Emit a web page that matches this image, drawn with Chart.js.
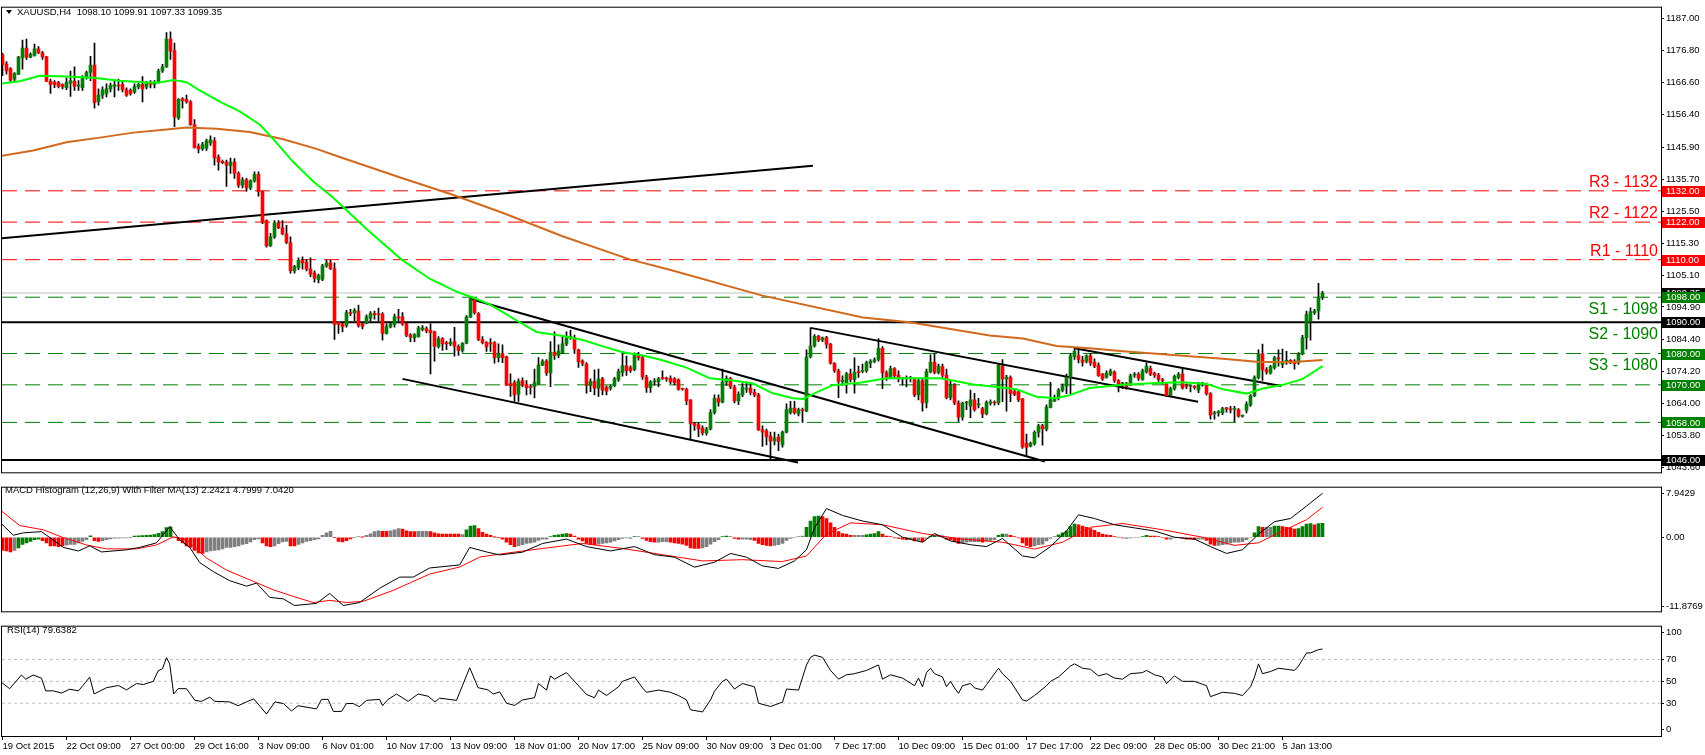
<!DOCTYPE html>
<html>
<head>
<meta charset="utf-8">
<title>XAUUSD H4</title>
<script src="https://cdn.jsdelivr.net/npm/chart.js@4.4.1/dist/chart.umd.min.js"></script>
<style>
  html, body { margin: 0; padding: 0; background: #fff; }
  #wrap { position: relative; width: 1705px; height: 755px; overflow: hidden; background: #fff; }
  #wrap canvas { position: absolute; left: 0; }
</style>
</head>
<body>
<div id="wrap">
  <canvas id="mainChart" width="1705" height="480" style="top:0"></canvas>
  <canvas id="macdChart" width="1705" height="139" style="top:480px"></canvas>
  <canvas id="rsiChart" width="1705" height="136" style="top:619px"></canvas>
</div>
<script>
// ---- candles (H4 bars, index 0 = 19 Oct 2015) ----
const OPENS = [
  1175.5,1172.6,1171.1,1167.7,1169.3,1174.5,1177.6,1174.7,1175.3,1177.4,
  1176.1,1174.8,1167.0,1166.7,1166.7,1166.0,1165.0,1166.4,1167.0,1165.5,
  1165.0,1168.3,1169.8,1172.2,1160.5,1162.6,1163.1,1164.6,1165.4,1165.7,
  1166.0,1164.3,1164.1,1163.6,1165.2,1166.0,1165.2,1166.4,1166.0,1166.7,
  1170.3,1171.6,1180.5,1176.8,1155.3,1161.4,1161.2,1160.4,1153.2,1146.2,
  1145.4,1145.6,1147.3,1148.0,1142.8,1141.4,1141.2,1140.0,1141.2,1137.6,
  1133.8,1135.5,1132.9,1135.2,1137.3,1131.7,1122.5,1114.4,1117.3,1121.8,
  1120.2,1118.2,1115.5,1106.4,1107.5,1109.8,1109.2,1107.1,1105.7,1103.6,
  1103.8,1108.0,1109.0,1107.1,1090.0,1089.5,1089.0,1093.1,1093.1,1093.6,
  1089.5,1089.7,1091.3,1092.8,1092.6,1092.6,1086.4,1088.5,1089.3,1091.7,
  1091.7,1089.5,1085.9,1085.0,1085.4,1087.7,1088.0,1087.4,1086.9,1082.3,
  1084.8,1083.4,1083.1,1083.8,1082.3,1081.0,1083.3,1091.7,1097.2,1092.8,
  1084.5,1083.5,1083.5,1083.5,1078.7,1080.0,1079.0,1070.4,1070.7,1067.0,
  1071.4,1070.1,1069.4,1069.4,1070.4,1076.3,1077.6,1073.8,1080.4,1079.4,
  1080.2,1083.1,1085.1,1085.1,1081.2,1077.6,1076.6,1069.7,1071.1,1068.9,
  1071.9,1069.1,1068.9,1069.7,1071.7,1074.0,1076.1,1075.5,1075.0,1079.7,
  1078.7,1072.5,1069.1,1070.9,1070.9,1072.1,1072.0,1072.1,1071.9,1071.7,
  1068.8,1068.6,1065.2,1057.7,1057.3,1056.2,1054.6,1055.9,1061.1,1065.7,
  1064.5,1070.9,1072.1,1069.3,1064.9,1066.8,1068.6,1069.0,1067.6,1066.8,
  1055.6,1055.2,1053.6,1052.1,1053.3,1050.8,1054.9,1061.1,1062.6,1060.8,
  1061.9,1061.6,1078.9,1082.4,1085.5,1084.3,1085.1,1083.0,1076.9,1074.5,
  1071.1,1070.7,1073.5,1071.7,1074.0,1074.3,1074.5,1076.9,1077.6,1078.1,
  1081.7,1073.8,1072.4,1075.2,1073.1,1072.1,1072.0,1072.1,1071.7,1066.8,
  1071.4,1064.2,1074.2,1077.3,1074.0,1075.8,1073.1,1065.9,1069.9,1064.2,
  1059.7,1064.2,1063.2,1065.2,1063.6,1062.4,1060.8,1064.2,1064.3,1064.2,
  1076.0,1071.9,1072.4,1067.9,1067.7,1065.5,1051.4,1050.4,1051.2,1054.8,
  1056.9,1055.9,1062.8,1064.9,1065.9,1068.3,1069.6,1072.4,1079.1,1079.3,
  1077.9,1077.6,1079.3,1077.2,1076.2,1073.4,1072.4,1073.4,1074.1,1071.4,
  1070.3,1070.3,1070.0,1073.1,1073.4,1071.7,1074.2,1075.2,1073.7,1073.1,
  1071.4,1070.3,1066.7,1068.8,1072.4,1073.4,1069.6,1069.6,1069.3,1068.3,
  1070.3,1069.8,1067.2,1060.7,1061.1,1061.0,1062.4,1062.1,1062.2,1062.1,
  1060.0,1061.8,1063.6,1066.5,1072.4,1079.9,1074.8,1073.7,1075.5,1078.6,
  1076.5,1077.5,1077.6,1077.6,1077.0,1079.9,1085.1,1090.3,1093.1,1093.6,1098.1
];
const HIGHS = [
  1176.0,1173.3,1171.4,1169.8,1175.0,1180.2,1180.5,1176.1,1178.9,1178.1,
  1176.6,1175.0,1167.7,1167.2,1167.0,1166.2,1168.1,1170.3,1171.6,1167.2,
  1168.8,1170.3,1175.0,1179.2,1164.6,1165.2,1166.2,1166.4,1167.2,1167.7,
  1167.2,1164.9,1164.6,1166.2,1166.7,1168.5,1167.0,1167.2,1167.2,1170.9,
  1172.4,1182.6,1182.8,1179.2,1161.5,1161.8,1162.6,1160.8,1154.8,1147.0,
  1147.5,1148.5,1149.6,1149.0,1143.5,1141.8,1141.8,1142.5,1142.3,1138.1,
  1136.2,1136.0,1135.5,1138.1,1138.1,1131.9,1122.7,1118.4,1122.5,1122.5,
  1122.5,1121.0,1117.3,1108.2,1110.6,1110.9,1110.0,1110.6,1106.4,1105.4,
  1108.5,1109.8,1109.8,1109.0,1090.0,1090.0,1093.8,1094.1,1094.4,1095.5,
  1090.0,1092.4,1093.4,1093.6,1094.5,1093.1,1089.5,1090.0,1092.6,1094.1,
  1093.1,1089.7,1086.4,1086.4,1088.7,1088.9,1088.5,1089.5,1087.2,1085.4,
  1085.1,1083.9,1084.8,1088.4,1082.8,1083.5,1092.1,1097.9,1097.7,1093.1,
  1085.4,1083.8,1084.8,1083.8,1083.1,1082.8,1079.2,1073.5,1071.4,1071.9,
  1072.2,1071.4,1070.1,1075.0,1078.7,1078.1,1078.1,1083.8,1086.9,1082.8,
  1085.4,1086.9,1087.4,1085.9,1081.4,1078.0,1077.1,1071.9,1074.8,1075.0,
  1072.4,1069.7,1069.9,1072.4,1075.0,1080.7,1079.2,1076.1,1080.2,1080.4,
  1079.2,1073.0,1071.4,1072.0,1072.4,1074.5,1072.5,1072.9,1072.3,1071.9,
  1069.0,1069.0,1065.2,1058.0,1058.0,1056.9,1056.4,1062.1,1066.8,1066.8,
  1075.0,1072.9,1072.4,1069.9,1067.8,1070.4,1070.9,1070.4,1068.6,1067.3,
  1056.9,1055.9,1054.9,1054.9,1054.2,1055.2,1063.9,1064.7,1064.7,1062.6,
  1062.6,1081.2,1088.2,1086.1,1085.8,1085.3,1085.5,1083.3,1077.1,1075.0,
  1072.9,1074.0,1075.0,1078.6,1076.0,1076.6,1077.6,1078.1,1078.6,1084.8,
  1082.2,1074.5,1076.0,1075.5,1074.5,1072.4,1072.9,1072.7,1072.1,1071.9,
  1071.9,1075.0,1079.6,1080.0,1076.6,1076.6,1075.0,1071.4,1070.4,1064.9,
  1064.5,1064.7,1068.3,1067.3,1065.7,1062.8,1064.9,1065.2,1064.9,1076.9,
  1078.1,1073.0,1072.9,1068.3,1067.9,1065.7,1054.3,1051.7,1055.3,1057.4,
  1057.4,1063.6,1070.8,1066.7,1068.8,1070.3,1073.4,1079.9,1081.7,1081.2,
  1079.1,1079.6,1079.9,1078.3,1077.0,1073.7,1074.5,1075.0,1074.5,1071.7,
  1070.8,1070.8,1073.4,1073.9,1073.9,1075.0,1077.0,1076.0,1074.1,1073.7,
  1072.1,1070.8,1069.3,1073.1,1073.9,1075.2,1070.3,1070.0,1069.8,1070.8,
  1070.8,1070.6,1067.5,1061.5,1061.8,1062.8,1062.8,1063.1,1063.1,1062.4,
  1060.3,1064.6,1066.9,1072.9,1081.2,1083.0,1075.5,1076.2,1079.1,1081.2,
  1081.4,1080.7,1078.1,1078.1,1080.3,1085.8,1093.6,1094.6,1094.1,1102.4,1099.9
];
const LOWS = [
  1168.8,1169.3,1167.0,1167.2,1169.1,1170.9,1174.0,1174.5,1175.0,1175.8,
  1174.0,1167.0,1163.1,1165.0,1164.9,1164.6,1164.3,1162.2,1164.1,1164.1,
  1164.1,1167.7,1167.2,1158.4,1159.4,1161.5,1162.0,1163.6,1162.0,1164.1,
  1163.6,1162.2,1162.6,1163.1,1164.6,1160.4,1164.6,1164.9,1164.9,1166.4,
  1169.8,1171.4,1174.0,1152.5,1154.8,1158.4,1160.0,1152.9,1145.6,1144.1,
  1144.9,1144.9,1146.5,1140.2,1138.6,1140.7,1133.4,1137.6,1136.0,1133.1,
  1132.9,1131.9,1132.4,1134.8,1130.3,1121.5,1114.0,1114.2,1116.8,1119.9,
  1117.9,1115.1,1105.7,1105.7,1106.8,1107.0,1106.4,1104.6,1102.8,1102.6,
  1103.3,1107.5,1106.8,1084.5,1086.4,1086.9,1088.4,1092.1,1090.5,1088.4,
  1087.9,1089.5,1090.5,1091.0,1090.5,1084.3,1086.2,1088.2,1088.4,1090.5,
  1089.0,1085.4,1083.8,1083.8,1085.2,1087.2,1086.6,1073.5,1077.6,1081.7,
  1081.0,1081.2,1082.5,1079.2,1079.4,1080.4,1083.1,1091.5,1092.6,1084.1,
  1083.1,1080.7,1080.7,1076.9,1077.3,1077.1,1069.7,1066.3,1064.7,1064.7,
  1069.4,1066.8,1067.0,1065.8,1070.1,1076.1,1073.0,1069.4,1078.1,1078.7,
  1080.0,1082.5,1084.5,1080.0,1075.6,1076.1,1067.3,1067.8,1066.8,1066.3,
  1066.8,1066.8,1068.3,1069.4,1071.1,1072.8,1073.0,1074.0,1074.5,1077.9,
  1071.7,1067.6,1067.6,1069.9,1069.4,1071.7,1071.2,1070.4,1070.0,1068.3,
  1068.3,1063.7,1052.8,1055.4,1053.4,1053.9,1053.9,1055.6,1060.6,1063.2,
  1064.2,1069.8,1068.8,1064.2,1063.7,1066.2,1067.6,1066.8,1066.2,1055.4,
  1050.3,1050.8,1046.4,1050.8,1049.0,1050.1,1054.6,1060.6,1060.6,1060.1,
  1058.0,1061.4,1078.6,1082.0,1083.8,1083.8,1081.7,1076.6,1074.0,1065.9,
  1069.9,1067.3,1070.9,1067.3,1072.4,1073.8,1074.0,1075.5,1077.1,1077.6,
  1068.8,1071.4,1071.9,1071.9,1070.9,1069.9,1069.3,1070.9,1066.2,1065.2,
  1061.6,1062.6,1073.8,1073.5,1073.5,1072.4,1065.5,1065.2,1063.7,1058.3,
  1058.7,1062.1,1059.5,1061.6,1062.6,1059.5,1060.4,1063.5,1063.5,1063.7,
  1064.6,1061.6,1064.6,1066.5,1064.6,1049.7,1047.1,1050.2,1050.7,1053.3,
  1050.7,1055.3,1062.6,1064.6,1065.2,1067.7,1067.2,1067.2,1078.1,1077.0,
  1076.0,1077.0,1076.2,1075.5,1072.7,1071.4,1072.1,1072.9,1070.8,1067.7,
  1068.8,1068.6,1069.8,1072.4,1071.4,1071.4,1073.7,1072.9,1072.4,1071.1,
  1070.3,1066.2,1066.2,1068.3,1071.9,1068.6,1068.8,1067.7,1068.6,1067.5,
  1069.6,1066.7,1059.0,1059.0,1060.0,1060.5,1061.3,1061.0,1058.2,1059.7,
  1059.7,1061.0,1063.1,1066.2,1071.9,1071.4,1073.4,1073.4,1075.0,1076.0,
  1075.5,1076.5,1076.8,1075.0,1076.5,1079.6,1081.4,1084.3,1092.5,1091.0,1097.3
];
const CLOSES = [
  1172.4,1170.3,1167.4,1169.5,1174.7,1177.6,1174.7,1175.7,1177.4,1176.1,
  1174.8,1167.0,1166.0,1165.9,1165.4,1165.2,1166.7,1167.2,1165.4,1165.7,
  1168.3,1169.8,1172.2,1160.2,1162.6,1164.3,1164.6,1165.7,1165.9,1165.5,
  1164.3,1162.6,1163.1,1165.4,1166.0,1164.6,1166.4,1166.0,1166.4,1170.3,
  1171.6,1180.5,1176.6,1155.6,1161.2,1160.8,1160.4,1153.2,1145.9,1145.4,
  1146.8,1148.0,1148.3,1142.5,1141.2,1141.0,1140.2,1141.2,1137.6,1133.8,
  1135.5,1132.9,1135.2,1137.3,1131.7,1122.0,1114.4,1117.3,1121.8,1120.2,
  1118.2,1115.5,1106.4,1107.8,1109.8,1109.0,1107.0,1105.4,1104.0,1104.9,
  1108.0,1109.0,1107.1,1089.3,1089.3,1088.5,1093.1,1092.8,1093.8,1089.0,
  1088.7,1091.7,1092.8,1092.4,1092.4,1086.4,1088.5,1089.5,1091.7,1091.4,
  1089.5,1085.9,1085.2,1086.1,1088.2,1088.2,1087.2,1086.6,1082.3,1084.8,
  1083.1,1083.1,1083.6,1082.3,1081.0,1083.3,1091.7,1097.5,1093.1,1084.5,
  1083.5,1082.1,1083.1,1078.7,1080.0,1078.7,1069.9,1069.7,1066.8,1071.1,
  1069.9,1069.1,1069.1,1070.7,1076.3,1077.6,1073.8,1080.4,1079.4,1080.7,
  1083.1,1085.1,1085.5,1081.4,1077.3,1076.9,1069.9,1071.1,1068.9,1071.9,
  1068.3,1068.0,1069.5,1071.9,1074.2,1076.1,1074.5,1074.6,1079.7,1078.7,
  1072.5,1069.1,1070.9,1071.3,1071.9,1072.0,1071.9,1070.9,1070.7,1068.6,
  1068.6,1064.9,1057.7,1057.0,1055.9,1054.6,1055.9,1061.1,1065.7,1064.5,
  1070.9,1072.1,1069.3,1064.9,1067.0,1069.3,1069.0,1067.6,1066.8,1055.6,
  1054.9,1053.4,1052.0,1053.1,1051.9,1054.9,1062.1,1062.6,1061.1,1062.1,
  1061.8,1078.9,1082.4,1085.5,1084.3,1085.0,1083.0,1076.9,1074.5,1071.1,
  1071.4,1073.5,1071.7,1074.0,1073.9,1074.5,1077.1,1077.6,1078.0,1081.7,
  1073.8,1072.4,1075.2,1072.9,1072.1,1072.0,1072.1,1072.0,1066.8,1071.4,
  1064.2,1074.2,1077.3,1074.0,1076.0,1073.1,1065.9,1069.9,1064.2,1059.7,
  1064.2,1064.3,1065.2,1062.1,1063.7,1060.6,1064.5,1064.3,1064.2,1076.2,
  1071.9,1072.5,1067.2,1066.9,1065.2,1050.2,1050.0,1051.4,1054.8,1056.9,
  1055.9,1062.8,1065.2,1065.9,1068.3,1069.6,1072.4,1079.3,1080.7,1078.1,
  1077.2,1079.3,1077.0,1076.0,1072.9,1071.9,1073.7,1074.5,1071.4,1070.3,
  1070.4,1069.3,1072.9,1073.2,1072.1,1074.5,1076.0,1073.4,1073.1,1071.7,
  1071.3,1066.5,1068.8,1072.7,1073.4,1069.0,1069.5,1069.7,1069.2,1070.3,
  1070.4,1067.2,1060.3,1060.8,1061.3,1062.4,1062.3,1062.0,1062.4,1060.0,
  1060.0,1063.8,1066.5,1072.4,1079.9,1074.8,1074.1,1075.8,1078.6,1078.3,
  1077.2,1077.6,1077.5,1076.8,1079.9,1085.1,1092.5,1093.4,1093.6,1097.9,1099.35
];

// moving averages, read as [bar index, price]
const MA_FAST = [
  [-0.7,1166.2],[4.3,1167.0],[9.3,1168.8],[16,1168.5],[22.7,1168.1],[29.3,1167.2],[36,1166.6],
  [39.3,1166.6],[42.7,1167.4],[46,1166.7],[49.3,1164.1],[54.3,1160.5],[59.3,1157.4],[64.3,1153.2],
  [67.7,1148.5],[72.7,1141.2],[77.7,1135.0],[82.7,1129.8],[91,1119.8],[99.7,1110.1],[106.8,1103.9],
  [113.5,1099.8],[117.6,1097.9],[121.8,1095.7],[129.3,1090.0],[133.5,1086.9],[140.1,1085.6],
  [145.1,1084.3],[150.1,1082.3],[155.1,1080.4],[160.1,1079.4],[164.3,1078.1],[171,1075.5],
  [176.8,1072.1],[182.6,1071.4],[187.6,1070.4],[192.6,1067.3],[197.6,1065.7],[200.1,1065.5],
  [203.5,1067.6],[207.6,1069.9],[214.3,1070.7],[221,1072.1],[227.6,1072.1],[234.3,1072.1],
  [237.6,1071.4],[242.6,1070.1],[249.3,1069.2],[253.5,1068.6],[258.5,1066.2],[263.5,1065.7],
  [266.8,1066.7],[271.8,1069.0],[280.1,1070.0],[288.5,1070.6],[295.1,1070.8],[301,1070.3],
  [305.1,1068.6],[311,1067.2],[315.1,1068.8],[320.1,1070.0],[325.1,1071.9],[330,1076.0]
];
const MA_SLOW = [
  [-0.7,1143.1],[7.7,1144.9],[16,1147.5],[24.3,1149.0],[32.7,1150.6],[41,1151.6],[46,1152.2],
  [53.5,1151.8],[61.8,1150.8],[70.2,1148.5],[78.5,1145.4],[84.3,1142.8],[100,1136.0],[112,1131.0],
  [125,1125.0],[140,1117.5],[156.8,1110.1],[166.8,1106.8],[190,1098.5],[215.1,1091.5],[226.8,1090.0],
  [246.8,1085.8],[255.1,1084.8],[263.5,1082.4],[271.8,1081.7],[280.1,1080.7],[288.5,1079.9],
  [296.8,1079.1],[305.1,1078.3],[313.5,1077.4],[321.8,1077.2],[330,1077.9]
];

// trend lines: [start index, start price, end index, end price]
const TRENDLINES = [
  [-0.7, 1116.8, 202.6, 1140.0],
  [116.8, 1097.5, 260.6, 1045.5],
  [100.0, 1071.9, 198.9, 1045.2],
  [202.0, 1088.2, 298.9, 1064.6],
  [268.0, 1081.7, 319.7, 1069.6]
];

// horizontal levels
const RESISTANCE = [['R3', 1132], ['R2', 1122], ['R1', 1110]];
const SUPPORT = [['S1', 1098], ['S2', 1090], ['S3', 1080]];
const GREEN_LEVELS = [1098, 1080, 1070, 1058];
const BLACK_LEVELS = [1090, 1046];
const LAST_PRICE = 1099.35;
const PRICE_TICKS = [1187.00,1176.80,1166.60,1156.40,1145.90,1135.70,1125.50,1115.30,1105.10,1094.90,1084.40,1074.20,1064.00,1053.80,1043.60];

// MACD histogram (12,26,9) with filter MA(13): bar values and colours (g rising, r falling, n neutral)
const HIST = [
  -2.11,-2.21,-2.36,-2.11,-1.72,-1.14,-0.90,-0.66,-0.41,-0.32,
  -0.56,-0.90,-1.38,-1.38,-1.53,-1.38,-1.29,-1.14,-1.14,-0.90,
  -0.66,-0.41,0.22,-0.56,-0.66,-0.56,-0.41,-0.27,-0.17,-0.17,
  -0.12,-0.12,-0.07,0.17,0.22,0.27,0.32,0.36,0.41,0.61,
  0.90,1.53,1.68,-0.07,-0.56,-0.90,-1.38,-1.63,-2.11,-2.50,
  -2.60,-2.36,-2.21,-2.11,-2.02,-1.87,-1.63,-1.63,-1.53,-1.38,
  -1.14,-1.04,-0.75,-0.41,-0.27,-0.90,-1.38,-1.53,-1.38,-1.04,
  -0.75,-0.66,-1.38,-1.38,-1.14,-0.90,-0.66,-0.56,-0.41,-0.27,
  0.32,0.70,0.95,-0.07,-0.66,-0.75,-0.56,-0.27,-0.07,0.12,
  0.02,0.32,0.56,0.90,1.04,0.95,0.95,1.04,1.19,1.38,
  1.29,1.04,0.90,0.90,0.95,0.95,0.95,0.90,0.70,0.56,
  0.51,0.51,0.51,0.51,0.51,0.41,1.19,1.77,1.87,1.38,
  0.80,0.51,0.32,0.02,-0.07,-0.3,-0.8,-1.2,-1.5,-1.4,
  -1.2,-1.0,-0.9,-0.8,-0.5,-0.3,-0.3,0.1,0.3,0.4,
  0.5,0.6,0.5,0.2,-0.3,-0.6,-1.0,-1.1,-1.2,-1.1,
  -1.0,-0.9,-0.8,-0.6,-0.4,-0.2,-0.1,-0.2,0.1,0.1,
  -0.2,-0.5,-0.7,-0.8,-0.8,-0.7,-0.7,-0.8,-0.9,-1.0,
  -1.1,-1.3,-1.7,-1.8,-1.8,-1.7,-1.5,-1.1,-0.7,-0.4,
  0.1,0.2,0.1,-0.2,-0.3,-0.3,-0.3,-0.4,-0.5,-1.0,
  -1.2,-1.3,-1.4,-1.3,-1.2,-1.0,-0.5,-0.2,0.0,0.1,
  0.2,1.6,2.6,3.3,3.4,3.3,3.0,2.3,1.6,0.9,
  0.6,0.5,0.3,0.3,0.3,0.3,0.4,0.5,0.6,0.9,
  0.5,0.2,0.1,-0.1,-0.2,-0.3,-0.4,-0.4,-0.6,-0.5,
  -0.7,-0.2,0.2,0.3,0.3,0.2,-0.3,-0.4,-0.7,-1.0,
  -0.9,-0.8,-0.7,-0.7,-0.7,-0.8,-0.6,-0.5,-0.4,0.3,
  0.5,0.5,0.3,0.1,-0.1,-0.9,-1.3,-1.5,-1.4,-1.2,
  -1.1,-0.6,-0.2,0.1,0.4,0.7,1.0,1.7,2.1,2.0,
  1.8,1.6,1.4,1.1,0.8,0.5,0.4,0.3,0.1,0.0,
  -0.1,-0.2,-0.1,0.0,0.0,0.1,0.3,0.2,0.2,0.1,
  0.0,-0.3,-0.3,-0.1,0.0,-0.2,-0.3,-0.3,-0.4,-0.3,
  -0.3,-0.5,-1.1,-1.3,-1.3,-1.2,-1.1,-0.9,-0.8,-0.8,
  -0.7,-0.4,0.0,0.7,1.7,1.6,1.6,1.6,1.8,1.8,
  1.7,1.6,1.5,1.3,1.4,1.7,2.1,2.2,2.0,2.2,2.24
];
const HIST_CLR =
  'rrrngggggg' + 'rrrrrrnnnn' + 'nngrrnnnnn' + 'nnnggggggg' + 'gggrrrrrrr' +
  'rnnnnnnnnn' + 'nnnnnrrrnn' + 'nnrrnnnnnn' + 'nnnrrrrrnn' + 'rnnnnrrnnn' +
  'rrrrnnnrrr' + 'rrrrrngggr' + 'rrrrrrrrrn' + 'nnnnnnnggg' + 'ggrrrrrrrn' +
  'nnnnnnnngn' + 'rrrrnnnrrr' + 'rrrrrnnnnn' + 'ggnrrnnnrr' + 'rrrnnnnnnn' +
  'nggggrrrrr' + 'rrrnnngggg' + 'rrrrrrrnrn' + 'rnggnrrrrr' + 'nnnnnrnnng' +
  'gnrrrrrrnn' + 'nnnngggggr' + 'rrrrrrrrrr' + 'rnnnnggrrr' + 'rrnnnrrrrn' +
  'nrrrnnnnnn' + 'nnnggrnngg' + 'rrrrggggrgg';
const MACD_LINE = [
  [-0.25,2.16],[2.7,0.32],[5.2,0.70],[9.75,0.90],[15.2,-1.63],[19,-2.21],[21.8,-1.38],[24.75,-2.36],
  [31,-2.02],[34.3,-1.63],[38.5,-0.90],[41.8,1.68],[44.3,-0.41],[46.8,-1.63],[49.3,-4.06],[52.7,-5.51],
  [56.8,-6.97],[61,-7.84],[63.5,-7.36],[66.8,-9.64],[70.2,-9.88],[73,-10.95],[78.5,-10.61],[81.8,-9.01],
  [85.2,-10.95],[89.3,-10.47],[94.3,-8.18],[99.3,-6.39],[102.7,-6.39],[106.8,-4.93],[114.3,-4.44],
  [116.8,-1.63],[121,-2.36],[124.3,-2.84],[130,-2.4],[135,-1.0],[141,-0.3],[146,-1.5],[152,-2.2],
  [158,-1.5],[163,-2.8],[168,-3.2],[173,-4.8],[178,-4.0],[182,-2.6],[186,-3.2],[190,-4.6],[194,-5.0],
  [198,-3.8],[201,-2.0],[203,1.5],[206,4.6],[210,3.5],[215,2.6],[220,2.0],[225,0.0],[230,-0.8],
  [233,0.6],[237,-0.6],[242,-1.2],[246,-1.5],[250,-0.2],[255,-3.0],[258,-3.3],[262,-1.5],[266,1.0],
  [269,3.6],[273,3.0],[278,2.0],[283,1.5],[288,1.0],[293,0.0],[298,-0.3],[302,-1.5],[306,-2.6],
  [310,-2.0],[314,0.5],[318,2.5],[322,3.0],[326,5.0],[330,7.04]
];
const SIGNAL_LINE = [
  [-0.25,4.20],[4.3,1.87],[10.2,1.19],[15.2,-0.07],[21,-1.24],[26,-1.87],[33.5,-1.87],[38.5,-1.24],
  [42.7,0.07],[46,-0.41],[51,-3.33],[56,-5.27],[62.7,-7.07],[67.7,-8.43],[72.7,-9.49],[77.7,-10.47],
  [81.8,-10.13],[86,-10.47],[90.2,-10.27],[97.7,-8.52],[106.8,-5.90],[114.3,-4.78],[119.3,-3.18],
  [124.3,-2.70],[135,-1.8],[145,-1.0],[155,-1.8],[165,-2.8],[175,-3.8],[185,-3.6],[195,-3.9],
  [201,-3.0],[206,0.5],[212,2.3],[220,2.0],[230,0.6],[240,-0.3],[250,-0.8],[258,-1.9],[265,-0.8],
  [272,1.6],[280,2.2],[290,1.2],[300,0.0],[308,-1.3],[314,-0.9],[320,1.0],[326,2.8],[330,4.80]
];

// RSI(14)
const RSI_LINE = [
  [-0.25,49],[1.8,43.3],[4.75,55.8],[5.8,52],[7.7,55.8],[9.75,52.9],[10.8,41.3],[12.7,41.3],[14.75,39.3],
  [16.8,42.8],[19,41.3],[21.8,53.8],[22.9,38.4],[26,44.2],[29,46.2],[31,42.2],[33.5,48],[35.2,47.1],
  [37.7,50],[38.9,59.6],[40,61.6],[41,71.7],[41.8,65.9],[42.8,38.4],[43.9,43.3],[46,43.3],[48.1,32.6],
  [49.75,31.7],[51.8,35.5],[53.1,31.7],[56.8,31.2],[58.9,27.7],[61,31.2],[62.8,34],[66,20.1],[68.1,31.2],
  [70.2,29.7],[72.25,23],[73.9,27.7],[78.5,24.8],[79.75,33.5],[81.4,33.5],[82.7,22.5],[84.75,22.5],
  [86,29.7],[87.7,29.7],[89.2,26.8],[91,32.6],[94.3,33.5],[95,27.7],[96.4,33.5],[98.5,38.4],[101.4,31.7],
  [103.9,38.4],[106.4,36.4],[108.1,31.2],[109.3,34.6],[113.5,32.6],[116.8,62.5],[118.9,44.2],[121.4,42.2],
  [122.7,38.4],[124.3,40.4],[126,30],[128,28],[130,33],[133,35],[134,48],[136,42],[137,55],[138,52],
  [141,58],[143,50],[146,38],[148,35],[149,42],[151,37],[154,45],[155,50],[158,54],[160,44],[161,40],
  [164,42],[167,40],[169,37],[171,33],[172,24],[175,22],[177,33],[178,41],[180,50],[181,52],[183,43],
  [185,48],[188,45],[189,30],[192,27],[195,31],[196,43],[199,42],[201,65],[202,72],[203,74],[205,72],
  [207,60],[209,52],[211,56],[213,57],[216,60],[219,65],[220,52],[222,56],[225,53],[228,46],[229,53],
  [230,45],[231,58],[232,62],[233,57],[235,54],[236,45],[237,50],[238,44],[239,39],[240,46],[242,48],
  [243,44],[245,42],[246,47],[249,62],[250,57],[252,50],[255,33],[256,32],[258,37],[261,46],[262,50],
  [264,54],[267,64],[268,66],[270,62],[272,61],[274,55],[276,57],[278,53],[280,52],[282,57],[285,58],
  [286,60],[288,56],[290,54],[291,48],[293,55],[295,50],[298,50],[301,46],[302,36],[305,40],[308,39],
  [310,37],[312,45],[313,54],[314,66],[315,57],[317,59],[319,62],[321,61],[323,60],[324,64],[325,70],
  [326,76],[327,76],[329,79],[330,79.64]
];
const RSI_LEVELS = [70, 50, 30];

// time axis
const TIME_TICKS = [0,16,32,48,64,80,96,112,128,144,160,176,192,208,224,240,256,272,288,304,320];
const TIME_LABELS = ['19 Oct 2015','22 Oct 09:00','27 Oct 00:00','29 Oct 16:00','3 Nov 09:00','6 Nov 01:00',
  '10 Nov 17:00','13 Nov 09:00','18 Nov 01:00','20 Nov 17:00','25 Nov 09:00','30 Nov 09:00','3 Dec 01:00',
  '7 Dec 17:00','10 Dec 09:00','15 Dec 01:00','17 Dec 17:00','22 Dec 09:00','28 Dec 05:00','30 Dec 21:00','5 Jan 13:00'];

const FONT = '"Liberation Sans", Arial, sans-serif';
const X_MIN = -0.125, X_MAX = 414.625;   // 4 px per bar across the plot
const GREEN = '#008000', RED = '#ff0000';

const pts = arr => arr.map(p => ({x: p[0], y: p[1]}));
const hline = v => [{x: X_MIN, y: v}, {x: X_MAX, y: v}];
const lineDs = (data, color, width, dash) => ({
  type: 'line', data: data, borderColor: color, borderWidth: width, borderDash: dash || [],
  pointRadius: 0, fill: false, tension: 0
});
const xHidden = () => ({type: 'linear', min: X_MIN, max: X_MAX, offset: false, display: false});
const yRight = (min, max, ticks, labels) => ({
  position: 'right', min: min, max: max,
  afterFit: s => { s.width = 44; },
  afterBuildTicks: s => { s.ticks = ticks.map(v => ({value: v})); },
  ticks: {autoSkip: false, font: {family: FONT, size: 9.5}, color: '#000', padding: 2,
          callback: (v, i) => labels ? labels[i] : v.toFixed(2)},
  grid: {drawOnChartArea: false, tickLength: 3, color: '#000'},
  border: {display: false}
});

const frame = {
  id: 'frame',
  afterDraw(chart) {
    const {ctx, chartArea: a} = chart;
    ctx.save();
    ctx.strokeStyle = '#000';
    ctx.lineWidth = 1;
    ctx.strokeRect(a.left - 0.5, a.top - 0.5, a.right - a.left + 1, a.bottom - a.top + 1);
    ctx.restore();
  }
};
const caption = (text, x, y) => ({
  id: 'caption',
  afterDraw(chart) {
    const ctx = chart.ctx;
    ctx.save();
    ctx.font = '9.5px ' + FONT;
    ctx.fillStyle = '#000';
    ctx.textBaseline = 'middle';
    ctx.fillText(text, x, y);
    ctx.restore();
  }
});

// ---------- price panel ----------
const mainOverlay = {
  id: 'mainOverlay',
  afterDraw(chart) {
    const {ctx, scales: {y}} = chart;
    ctx.save();
    // title
    ctx.fillStyle = '#000';
    ctx.beginPath();
    ctx.moveTo(6, 10); ctx.lineTo(12, 10); ctx.lineTo(9, 14); ctx.closePath(); ctx.fill();
    ctx.font = '9.5px ' + FONT;
    ctx.textBaseline = 'middle';
    ctx.fillText('XAUUSD,H4  1098.10 1099.91 1097.33 1099.35', 17, 12);
    // level captions
    ctx.font = '16px ' + FONT;
    ctx.textAlign = 'right';
    ctx.textBaseline = 'alphabetic';
    ctx.fillStyle = RED;
    RESISTANCE.forEach(([n, v]) => ctx.fillText(n + ' - ' + v, 1658, y.getPixelForValue(v) - 4));
    ctx.fillStyle = GREEN;
    SUPPORT.forEach(([n, v]) => ctx.fillText(n + ' - ' + v, 1658, y.getPixelForValue(v) + 16.5));
    // axis price tags
    const tags = [];
    RESISTANCE.forEach(([n, v]) => tags.push([v, RED]));
    tags.push([LAST_PRICE, '#000']);
    GREEN_LEVELS.forEach(v => tags.push([v, GREEN]));
    BLACK_LEVELS.forEach(v => tags.push([v, '#000']));
    tags.sort((a, b) => (a[0] === LAST_PRICE ? -1 : 0) - (b[0] === LAST_PRICE ? -1 : 0));
    ctx.font = '9.5px ' + FONT;
    ctx.textAlign = 'left';
    ctx.textBaseline = 'middle';
    tags.forEach(([v, c]) => {
      const py = y.getPixelForValue(v);
      ctx.fillStyle = c;
      ctx.fillRect(1662, Math.round(py) - 5, 43, 11);
      ctx.fillStyle = '#fff';
      ctx.fillText(v.toFixed(2), 1666, py + 0.5);
    });
    ctx.restore();
  }
};

const bodyData = CLOSES.map((c, i) => ({x: i, y: [OPENS[i], c]}));
const wickData = CLOSES.map((c, i) => ({x: i, y: [Math.min(LOWS[i], OPENS[i], c), Math.max(HIGHS[i], OPENS[i], c)]}));
const bodyColors = CLOSES.map((c, i) => c >= OPENS[i] ? GREEN : RED);

const mainSets = [
  lineDs(pts(MA_FAST), '#00ff00', 2),
  lineDs(pts(MA_SLOW), '#d2691e', 2),
  {type: 'bar', data: bodyData, backgroundColor: bodyColors, barThickness: 3, minBarLength: 1, borderWidth: 0, grouped: false},
  {type: 'bar', data: wickData, backgroundColor: '#000', barThickness: 1, borderWidth: 0, grouped: false}
];
TRENDLINES.forEach(t => mainSets.push(lineDs([{x: t[0], y: t[1]}, {x: t[2], y: t[3]}], '#000', 2)));
BLACK_LEVELS.forEach(v => mainSets.push(lineDs(hline(v), '#000', 2)));
RESISTANCE.forEach(([n, v]) => mainSets.push(lineDs(hline(v), RED, 1, [15, 8])));
GREEN_LEVELS.forEach(v => mainSets.push(lineDs(hline(v), GREEN, 1, [15, 8])));
mainSets.push(lineDs(hline(LAST_PRICE), '#c0c0c0', 1));

new Chart(document.getElementById('mainChart'), {
  type: 'bar',
  data: {datasets: mainSets},
  options: {
    responsive: false, animation: false, devicePixelRatio: 1,
    layout: {padding: {left: 2, top: 2, bottom: 2, right: 0}},
    plugins: {legend: {display: false}, tooltip: {enabled: false}},
    scales: {x: xHidden(), y: yRight(1042.05, 1190.52, PRICE_TICKS)}
  },
  plugins: [frame, mainOverlay]
});

// ---------- MACD panel ----------
const histColors = HIST.map((v, i) => HIST_CLR[i] === 'g' ? GREEN : HIST_CLR[i] === 'r' ? RED : '#808080');
new Chart(document.getElementById('macdChart'), {
  type: 'bar',
  data: {datasets: [
    lineDs(pts(MACD_LINE), '#000', 1),
    lineDs(pts(SIGNAL_LINE), RED, 1),
    {type: 'bar', data: HIST.map((v, i) => ({x: i, y: v})), backgroundColor: histColors, barThickness: 3, borderWidth: 0, grouped: false}
  ]},
  options: {
    responsive: false, animation: false, devicePixelRatio: 1,
    layout: {padding: {left: 2, top: 1, bottom: 2, right: 0}},
    plugins: {legend: {display: false}, tooltip: {enabled: false}},
    scales: {x: xHidden(), y: yRight(-11.8769, 7.9429, [7.07, 0, -11.15], ['7.9429', '0.00', '-11.8769'])}
  },
  plugins: [frame, caption('MACD Histogram (12,26,9) With Filter MA(13) 2.2421 4.7999 7.0420', 5, 10)]
});

// ---------- RSI panel ----------
const rsiSets = [lineDs(pts(RSI_LINE), '#000', 1)];
RSI_LEVELS.forEach(v => rsiSets.push(lineDs(hline(v), '#c0c0c0', 1, [3, 3])));
new Chart(document.getElementById('rsiChart'), {
  type: 'line',
  data: {datasets: rsiSets},
  options: {
    responsive: false, animation: false, devicePixelRatio: 1,
    layout: {padding: {left: 2, top: 2, bottom: 0, right: 0}},
    plugins: {legend: {display: false}, tooltip: {enabled: false}},
    scales: {
      x: {
        type: 'linear', min: X_MIN, max: X_MAX, offset: false, position: 'bottom',
        afterFit: s => { s.height = 19; },
        afterBuildTicks: s => { s.ticks = TIME_TICKS.map(v => ({value: v})); },
        ticks: {autoSkip: false, maxRotation: 0, align: 'start', padding: 1,
                font: {family: FONT, size: 9.5}, color: '#000',
                callback: (v, i) => TIME_LABELS[i]},
        grid: {drawOnChartArea: false, tickLength: 4, color: '#000', offset: false},
        border: {display: false}
      },
      y: yRight(0, 100, [94.8, 70, 50, 30, 6.1], ['100', '70', '50', '30', '0'])
    }
  },
  plugins: [frame, caption('RSI(14) 79.6382', 7, 11)]
});
</script>
</body>
</html>
